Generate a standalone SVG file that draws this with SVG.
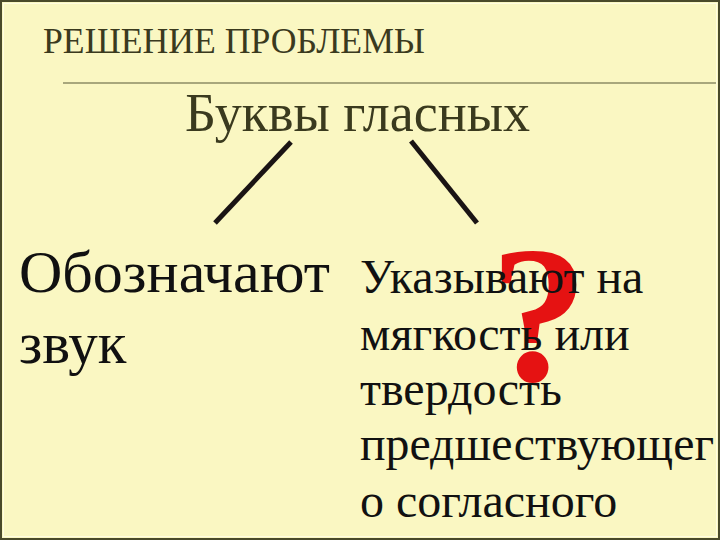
<svg xmlns="http://www.w3.org/2000/svg" width="720" height="540" viewBox="0 0 720 540">
<style>
.serif{font-family:"Liberation Serif","Times New Roman",serif}
.olive{fill:#3a3a1e}
.blk{fill:#111111}
.conn{stroke:#1a1414;stroke-width:5;stroke-linecap:butt}
</style>
<rect x="0" y="0" width="720" height="540" fill="#FAF7C2"/>
<rect x="1" y="1" width="718" height="538" fill="none" stroke="#4a4a2a" stroke-width="2"/>
<rect x="3.5" y="3.5" width="713" height="533" fill="none" stroke="#fffde0" stroke-width="1"/>
<line x1="63" y1="83" x2="716" y2="83" stroke="#8c8c64" stroke-width="1.5"/>
<g id="title"><text class="serif olive" x="43" y="53" font-size="36" textLength="382" lengthAdjust="spacingAndGlyphs">РЕШЕНИЕ ПРОБЛЕМЫ</text></g>
<g id="root"><text class="serif olive" x="185" y="131" font-size="54" textLength="345" lengthAdjust="spacingAndGlyphs">Буквы гласных</text></g>
<g id="connectors">
<line class="conn" x1="291" y1="142" x2="215" y2="223"/>
<line class="conn" x1="411" y1="141" x2="477" y2="223"/>
</g>
<g id="question"><text class="serif" x="539" y="380" font-size="196" font-weight="bold" fill="#e51212" text-anchor="middle">?</text></g>
<g id="left"><text class="serif blk" font-size="59"><tspan x="19" y="292" textLength="311" lengthAdjust="spacingAndGlyphs">Обозначают</tspan><tspan x="19" y="363">звук</tspan></text></g>
<g id="right"><text class="serif blk" font-size="48"><tspan x="360" y="293">Указывают на</tspan><tspan x="360" y="350">мягкость или</tspan><tspan x="360" y="405">твердость</tspan><tspan x="360" y="460" textLength="354" lengthAdjust="spacingAndGlyphs">предшествующег</tspan><tspan x="360" y="517">о согласного</tspan></text></g>
</svg>
